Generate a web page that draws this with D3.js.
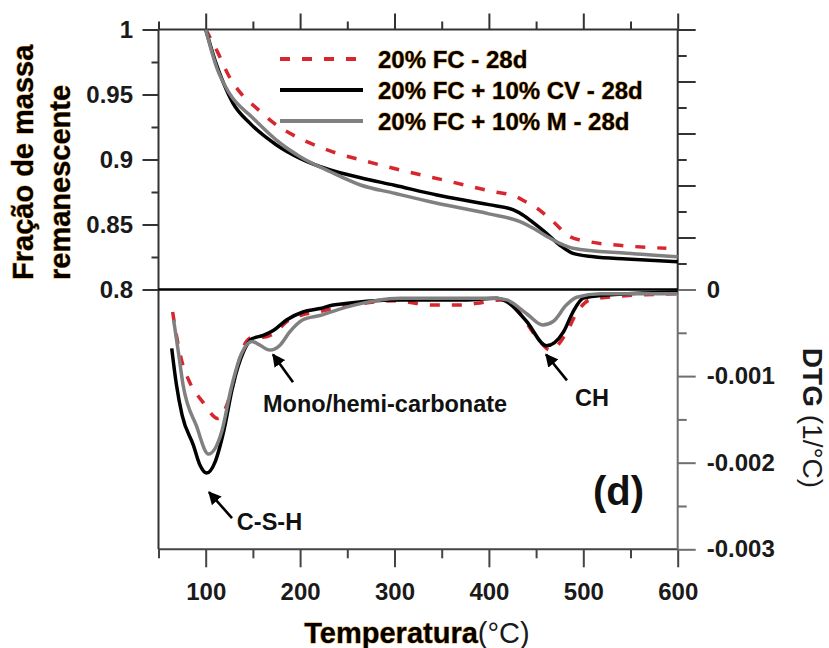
<!DOCTYPE html>
<html>
<head>
<meta charset="utf-8">
<script src="https://cdnjs.cloudflare.com/ajax/libs/d3/7.8.5/d3.min.js"></script>
<style>
	body { margin: 0; background: #fff; }
	svg text { font-family: "Liberation Sans", Arial, sans-serif; }
</style>
</head>
<body>
<svg id="chart" width="829" height="648"></svg>
<script>
//===== DATA =====//

var seriesNames = ['20% FC - 28d', '20% FC + 10% CV - 28d', '20% FC + 10% M - 28d'];

// remaining mass fraction vs temperature (°C)
var tgFC = [[100,1.0],[113,0.982],[124,0.965],[136,0.952],[154,0.9394],[175,0.9265],[196,0.9175],[218,0.9104],[239,0.9048],[265,0.8996],[309,0.8914],[355,0.8837],[405,0.8752],[429,0.8714],[440,0.867],[451,0.8625],[468,0.8522],[486,0.8406],[507,0.8367],[546,0.8335],[588,0.8317]];
var tgCV = [[100,1.0],[110,0.976],[119,0.9586],[129,0.9432],[147,0.9278],[175,0.9112],[200,0.9009],[232,0.8919],[264,0.886],[300,0.8802],[345,0.8727],[400,0.8653],[426,0.8612],[436,0.8573],[448,0.8508],[461,0.8432],[475,0.8342],[489,0.8278],[511,0.8252],[546,0.8235],[600,0.8214]];
var tgM = [[100,1.0],[112,0.97],[125,0.951],[150,0.932],[179,0.9125],[200,0.9022],[232,0.8906],[264,0.8804],[300,0.874],[345,0.8663],[400,0.8582],[433,0.8522],[447,0.8471],[461,0.841],[475,0.8355],[489,0.8317],[546,0.8278],[600,0.8252]];

// DTG (1/°C) vs temperature (°C)
var dtgFC = [[65,-0.00026],[69,-0.00053],[75,-0.00084],[83,-0.00107],[97,-0.0013],[113,-0.00149],[126,-0.00122],[136,-0.0008],[143,-0.0006],[150,-0.00055],[161,-0.00055],[172,-0.00051],[186,-0.00037],[200,-0.0003],[218,-0.00026],[250,-0.00019],[300,-0.00013],[341,-0.00018],[370,-0.00018],[387,-0.00016],[412,-0.00012],[425,-0.00017],[440,-0.00039],[452,-0.00057],[465,-0.0007],[482,-0.0005],[493,-0.00027],[507,-0.00012],[535,-0.00008],[600,-0.00005]];
var dtgCV = [[64,-0.00068],[69,-0.0011],[75,-0.00145],[87,-0.0018],[94,-0.00203],[101,-0.00212],[110,-0.00199],[119,-0.00164],[129,-0.0011],[140,-0.00072],[149,-0.00057],[161,-0.00053],[172,-0.00047],[186,-0.00035],[203,-0.00026],[221,-0.00022],[235,-0.00018],[306,-0.00012],[376,-0.00012],[408,-0.0001],[419,-0.00014],[440,-0.00037],[461,-0.00065],[479,-0.00049],[489,-0.00026],[500,-0.0001],[518,-0.00007],[600,-0.00003]];
var dtgM = [[66,-0.00035],[71,-0.00072],[76,-0.0011],[90,-0.00157],[103,-0.0019],[117,-0.00164],[127,-0.00114],[138,-0.00074],[149,-0.0006],[157,-0.00064],[168,-0.0007],[179,-0.00064],[189,-0.00049],[203,-0.00035],[221,-0.0003],[250,-0.0002],[306,-0.0001],[405,-0.0001],[419,-0.00012],[440,-0.00028],[457,-0.00041],[468,-0.00037],[482,-0.00018],[493,-0.00009],[518,-0.00005],[600,-0.00005]];

var xMajorTicks = [100, 200, 300, 400, 500, 600];
var xMinorTicks = [50, 150, 250, 350, 450, 550];
var tgMajorTicks = [0.8, 0.85, 0.9, 0.95, 1];
var tgMinorTicks = [0.825, 0.875, 0.925, 0.975];
var tgRightMajor = [0.8, 0.84, 0.88, 0.92, 0.96, 1];
var tgRightMinor = [0.82, 0.86, 0.9, 0.94, 0.98];
var dtgMajorTicks = [0, -0.001, -0.002, -0.003];
var dtgMinorTicks = [-0.0005, -0.0015, -0.0025];

// annotations in data coords: arrow tip, arrow tail, label start
var annotations = [
	{text: 'C-S-H', tip: [103.5, -0.00234], tail: [127.9, -0.00264], label: [133, -0.00278]},
	{text: 'Mono/hemi-carbonate', tip: [171.3, -0.00075], tail: [192.5, -0.00107], label: [160.7, -0.00141]},
	{text: 'CH', tip: [460.5, -0.00075], tail: [482.7, -0.00105], label: [491.2, -0.00135]}
];

//===== SCALES =====//

var FONT = '"Liberation Sans", Arial, sans-serif';
var svg = d3.select('#chart');
var x = d3.scaleLinear().domain([50, 600]).range([158.5, 677.7]);
var yTg = d3.scaleLinear().domain([0.8, 1]).range([289.5, 29.5]);
var yDtg = d3.scaleLinear().domain([-0.003, 0]).range([549.3, 289.5]);

var red = '#d7262d', grey = '#808080', black = '#000';
var styles = [
	{color: red, dash: '10,12'},
	{color: black, dash: null},
	{color: grey, dash: null}
];

//===== AXES =====//

function drawAxis(axis, transform, color) {
	var g = svg.append('g').attr('transform', transform).call(axis);
	g.attr('font-family', FONT).attr('font-size', 24);
	g.select('.domain').remove();
	g.selectAll('line').attr('stroke', color).attr('stroke-width', 2);
	g.selectAll('text')
		.attr('fill', '#1a1a1a')
		.style('font-family', FONT)
		.style('font-size', '24px')
		.style('font-weight', '700');
	return g;
}

var dtgFormat = function (d) { return d === 0 ? '0' : '-' + Math.abs(d).toFixed(3); };

drawAxis(d3.axisTop(x).tickValues(xMajorTicks).tickSize(16).tickFormat(''), 'translate(0,29.5)', '#333');
drawAxis(d3.axisTop(x).tickValues(xMinorTicks).tickSize(8).tickFormat(''), 'translate(0,29.5)', '#333');
drawAxis(d3.axisBottom(x).tickValues(xMajorTicks).tickSize(18).tickPadding(16).tickFormat(d3.format('d')), 'translate(0,549.3)', '#444');
drawAxis(d3.axisBottom(x).tickValues(xMinorTicks).tickSize(9).tickFormat(''), 'translate(0,549.3)', '#444');
drawAxis(d3.axisLeft(yTg).tickValues(tgMajorTicks).tickSize(16).tickPadding(9.5).tickFormat(d3.format('~g')), 'translate(158.5,0)', '#333');
drawAxis(d3.axisLeft(yTg).tickValues(tgMinorTicks).tickSize(7).tickFormat(''), 'translate(158.5,0)', '#333');
drawAxis(d3.axisRight(yTg).tickValues(tgRightMajor).tickSize(18).tickFormat(''), 'translate(677.7,0)', '#333');
drawAxis(d3.axisRight(yTg).tickValues(tgRightMinor).tickSize(9).tickFormat(''), 'translate(677.7,0)', '#333');
drawAxis(d3.axisRight(yDtg).tickValues(dtgMajorTicks).tickSize(18).tickPadding(11).tickFormat(dtgFormat), 'translate(677.7,0)', '#6e6e6e');
drawAxis(d3.axisRight(yDtg).tickValues(dtgMinorTicks).tickSize(9).tickFormat(''), 'translate(677.7,0)', '#6e6e6e');

// frame lines
var frame = svg.append('g').attr('stroke-width', 2);
frame.append('line').attr('x1', x(50)).attr('x2', x(600)).attr('y1', yTg(1)).attr('y2', yTg(1)).attr('stroke', '#333');
frame.append('line').attr('x1', x(50)).attr('x2', x(600)).attr('y1', yDtg(-0.003)).attr('y2', yDtg(-0.003)).attr('stroke', '#444');
frame.append('line').attr('x1', x(50)).attr('x2', x(50)).attr('y1', yTg(1)).attr('y2', yDtg(-0.003)).attr('stroke', '#333');
frame.append('line').attr('x1', x(600)).attr('x2', x(600)).attr('y1', yTg(1)).attr('y2', yTg(0.8)).attr('stroke', '#333');
frame.append('line').attr('x1', x(600)).attr('x2', x(600)).attr('y1', yDtg(0)).attr('y2', yDtg(-0.003)).attr('stroke', '#6e6e6e');

//===== CURVES =====//

var tgLine = d3.line().x(function (d) { return x(d[0]); }).y(function (d) { return yTg(d[1]); }).curve(d3.curveMonotoneX);
var dtgLine = d3.line().x(function (d) { return x(d[0]); }).y(function (d) { return yDtg(d[1]); }).curve(d3.curveMonotoneX);

[tgFC, tgCV, tgM].forEach(function (data, i) {
	svg.append('path').datum(data)
		.attr('d', tgLine)
		.attr('fill', 'none')
		.attr('stroke', styles[i].color)
		.attr('stroke-width', 3.5)
		.attr('stroke-dasharray', styles[i].dash);
});
[dtgFC, dtgCV, dtgM].forEach(function (data, i) {
	svg.append('path').datum(data)
		.attr('d', dtgLine)
		.attr('fill', 'none')
		.attr('stroke', styles[i].color)
		.attr('stroke-width', 3.5)
		.attr('stroke-dasharray', styles[i].dash);
});

// separator between the panels
svg.append('line')
	.attr('x1', x(50)).attr('x2', x(600))
	.attr('y1', yTg(0.8)).attr('y2', yTg(0.8))
	.attr('stroke', '#000').attr('stroke-width', 2.5);

//===== LEGEND =====//

var legend = svg.append('g').attr('transform', 'translate(280,59)');
seriesNames.forEach(function (name, i) {
	var row = legend.append('g').attr('transform', 'translate(0,' + (i * 31) + ')');
	row.append('line')
		.attr('x1', 0).attr('x2', 83)
		.attr('stroke', styles[i].color)
		.attr('stroke-width', 4)
		.attr('stroke-dasharray', styles[i].dash);
	row.append('text')
		.attr('x', 98).attr('y', 8.5)
		.attr('fill', '#000')
		.attr('stroke', '#e8a33c').attr('stroke-width', 1).attr('paint-order', 'stroke')
		.style('font-size', '24px').style('font-weight', 'bold')
		.text(name);
});

//===== ANNOTATIONS =====//

svg.append('defs').append('marker')
	.attr('id', 'arrow')
	.attr('viewBox', '0 0 10 10')
	.attr('refX', 9).attr('refY', 5)
	.attr('markerWidth', 5).attr('markerHeight', 5)
	.attr('markerUnits', 'strokeWidth')
	.attr('orient', 'auto')
	.append('path').attr('d', 'M0,0L10,5L0,10z').attr('fill', '#000');

annotations.forEach(function (a) {
	svg.append('line')
		.attr('x1', x(a.tail[0])).attr('y1', yDtg(a.tail[1]))
		.attr('x2', x(a.tip[0])).attr('y2', yDtg(a.tip[1]))
		.attr('stroke', '#000').attr('stroke-width', 2.6)
		.attr('marker-end', 'url(#arrow)');
	svg.append('text')
		.attr('x', x(a.label[0])).attr('y', yDtg(a.label[1]))
		.attr('fill', '#111')
		.style('font-size', '23.5px').style('font-weight', 'bold')
		.text(a.text);
});

svg.append('text')
	.attr('x', x(510.3)).attr('y', yDtg(-0.00249))
	.attr('fill', '#111')
	.style('font-size', '40px').style('font-weight', 'bold')
	.text('(d)');

//===== TITLES =====//

function title(el) {
	return el.attr('fill', '#000')
		.attr('stroke', '#e8a33c').attr('stroke-width', 1).attr('paint-order', 'stroke')
		.style('font-size', '29px');
}

title(svg.append('text').attr('transform', 'translate(33,280) rotate(-90)'))
	.style('font-weight', 'bold').text('Fração de massa');
title(svg.append('text').attr('transform', 'translate(70,280) rotate(-90)'))
	.style('font-weight', 'bold').text('remanescente');

var xTitle = title(svg.append('text').attr('x', 417).attr('y', 643).attr('text-anchor', 'middle'));
xTitle.append('tspan').style('font-weight', 'bold').text('Temperatura');
xTitle.append('tspan').attr('stroke', 'none').attr('fill', '#1a1a1a').text('(°C)');

var yTitle = svg.append('text')
	.attr('transform', 'translate(803,418) rotate(90)')
	.attr('text-anchor', 'middle')
	.attr('fill', '#1a1a1a')
	.style('font-size', '28px');
yTitle.append('tspan').style('font-weight', 'bold').text('DTG');
yTitle.append('tspan').text(' (1/°C)');
</script>
</body>
</html>
